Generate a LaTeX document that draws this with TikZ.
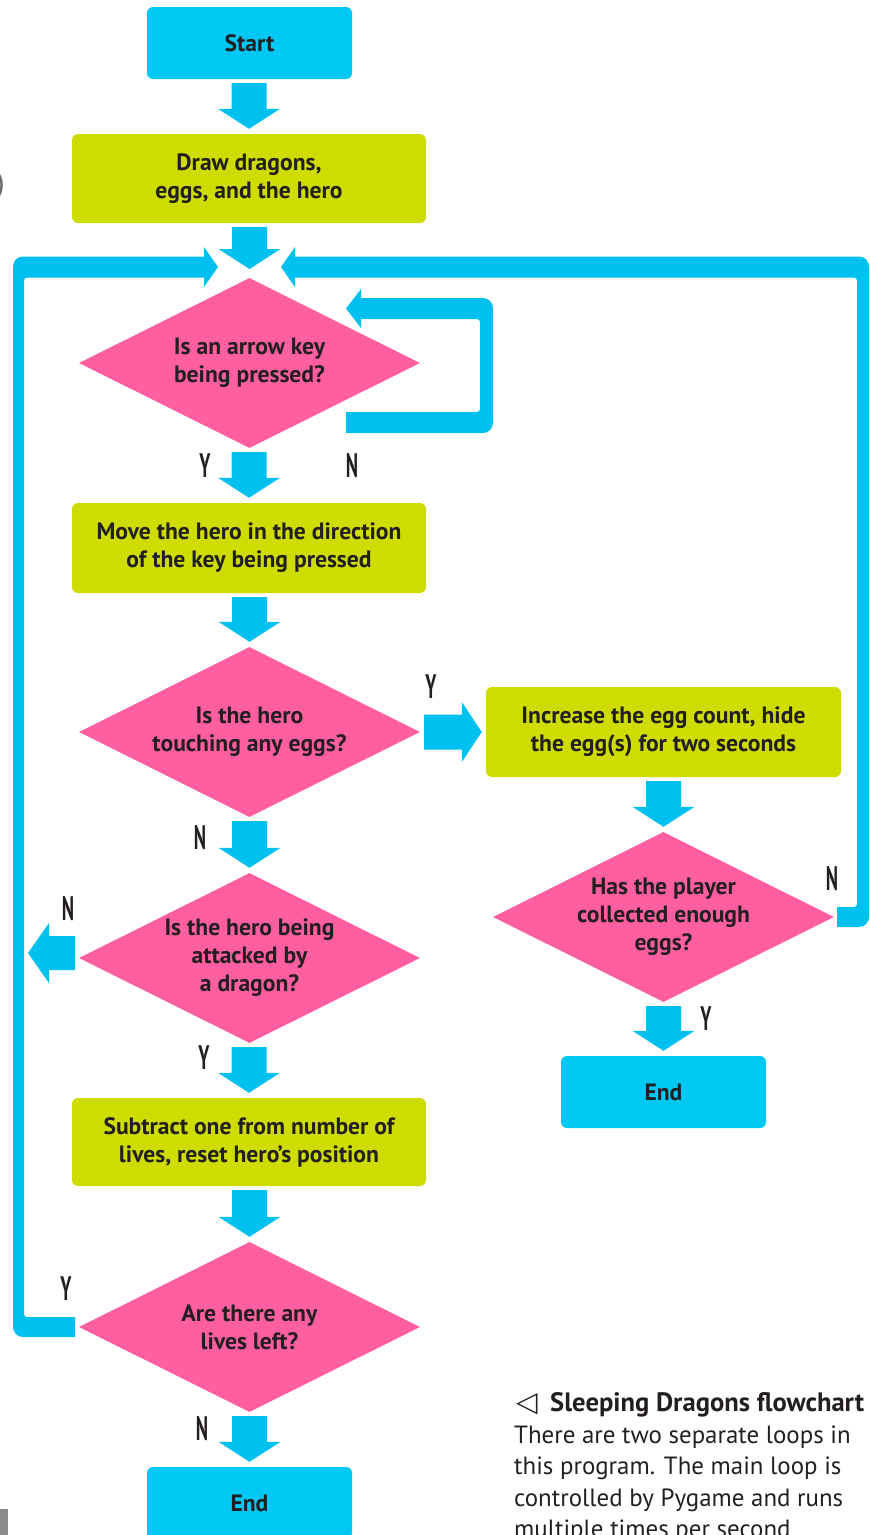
\documentclass[tikz,border=0pt]{standalone}
\usepackage{fontspec}
\setmainfont{PT Sans}
\newfontfamily\symfont{DejaVu Sans}
\usetikzlibrary{shapes.geometric,calc}
\definecolor{flow}{RGB}{0,192,240}
\definecolor{termc}{RGB}{0,200,244}
\definecolor{procc}{RGB}{206,220,0}
\definecolor{decc}{RGB}{255,94,160}
\definecolor{ink}{RGB}{35,31,32}
\definecolor{edgegray}{RGB}{110,110,110}
\newcommand\boxfont{\fontsize{23.6}{28}\selectfont\bfseries}
\newcommand\ynfont{\fontsize{34}{34}\selectfont\bfseries}
\newcommand\capfont{\fontsize{24.9}{31.5}\selectfont}
\newcommand\yn[1]{\scalebox{0.55}[1]{#1}}
% vertical block arrow from node #1 (south) to node #2 (north)
\newcommand\vblock[2]{\fill[flow] let \p1=(#1.south), \p2=(#2.north) in
  (\x2-17.5pt,\y1-4pt) -- (\x2+17.5pt,\y1-4pt) -- (\x2+17.5pt,\y2+25pt) --
  (\x2+31pt,\y2+25pt) -- (\x2,\y2+5pt) -- (\x2-31pt,\y2+25pt) --
  (\x2-17.5pt,\y2+25pt) -- cycle;}
% right-pointing block arrow from #1.east to #2.west
\newcommand\rblock[2]{\fill[flow] let \p1=(#1.east), \p2=(#2.west) in
  (\x1+4pt,\y1+17.5pt) -- (\x2-24pt,\y1+17.5pt) -- (\x2-24pt,\y1+30pt) --
  (\x2-4pt,\y1) -- (\x2-24pt,\y1-30pt) -- (\x2-24pt,\y1-17.5pt) --
  (\x1+4pt,\y1-17.5pt) -- cycle;}
% left-pointing block arrow from #1.west to coordinate #2
\newcommand\lblock[2]{\fill[flow] let \p1=(#1.west), \p2=(#2) in
  (\x1-4pt,\y2+17pt) -- (\x2+21pt,\y2+17pt) -- (\x2+21pt,\y2+30pt) --
  (\x2,\y2) -- (\x2+21pt,\y2-30pt) -- (\x2+21pt,\y2-17pt) --
  (\x1-4pt,\y2-17pt) -- cycle;}
\begin{document}
\begin{tikzpicture}[x=1pt,y=-1pt,
  termbox/.style={rectangle, rounded corners=6pt, fill=termc, minimum width=205pt,
    minimum height=72pt, inner sep=0pt, font=\boxfont, text=ink},
  procbox/.style={rectangle, rounded corners=6pt, fill=procc, minimum width=354pt,
    minimum height=89pt, inner sep=0pt, align=center, font=\boxfont, text=ink},
  decbox/.style={diamond, fill=decc, minimum width=341pt, minimum height=170pt,
    inner sep=0pt, aspect=2, align=center, font=\boxfont, text=ink},
  ynlab/.style={font=\ynfont, text=ink, inner sep=0pt},
  capline/.style={anchor=base west, inner sep=0pt, font=\capfont, text=ink}]
\useasboundingbox (0,0) rectangle (870,1535);
\clip (0,0) rectangle (870,1535);

% ---- loop lines ----
\begin{scope}
  \clip (0,240) -- (204,240) -- (204,290) -- (75,290) -- (75,1350) -- (0,1350) -- cycle;
  \fill[flow, even odd rule] [rounded corners=10pt] (13,256.5) rectangle (400,1337)
    [rounded corners=3pt] (24,277.5) rectangle (390,1317);
\end{scope}
\begin{scope}
  \clip (295,240) -- (880,240) -- (880,940) -- (837,940) -- (837,290) -- (295,290) -- cycle;
  \fill[flow, even odd rule] [rounded corners=10pt] (100,256.5) rectangle (869,927)
    [rounded corners=3pt] (110,277.5) rectangle (857,907);
\end{scope}
\begin{scope}
  \clip (361,290) -- (500,290) -- (500,440) -- (346,440) -- (346,366) -- (361,366) -- cycle;
  \fill[flow, even odd rule] [rounded corners=10pt] (200,298) rectangle (493,433)
    [rounded corners=3pt] (210,319) rectangle (480,412);
\end{scope}
\coordinate (lhead) at (218,267);
\coordinate (rhead) at (281,267);
\coordinate (ihead) at (346,308.5);
\fill[flow] (204,247) -- (lhead) -- (204,287) -- cycle;
\fill[flow] (295,247) -- (rhead) -- (295,287) -- cycle;
\fill[flow] (361,289) -- (ihead) -- (361,328) -- cycle;

% ---- nodes ----
\node[termbox] (start) at (249.5,43) {Start};
\node[procbox] (draw) at (249,178.5) {Draw dragons,\\eggs, and the hero};
\coordinate (J) at (249.5,274);
\node[decbox] (d1) at (249.5,363) {Is an arrow key\\being pressed?};
\node[procbox, minimum height=90pt] (move) at (249,548) {Move the hero in the direction\\of the key being pressed};
\node[decbox] (d2) at (249.5,732) {Is the hero\\touching any eggs?};
\node[procbox, minimum width=355pt, minimum height=90pt] (inc) at (663.5,732) {Increase the egg count, hide\\the egg(s) for two seconds};
\node[decbox] (d3) at (663.5,917) {Has the player\\collected enough\\eggs?};
\node[termbox] (endB) at (663.5,1092) {End};
\node[decbox] (d4) at (249.5,958) {Is the hero being\\attacked by\\a dragon?};
\coordinate (nend) at (28,953);
\node[procbox, minimum height=88pt] (sub) at (249,1142) {Subtract one from number of\\lives, reset hero’s position};
\node[decbox] (d5) at (249.5,1327) {Are there any\\lives left?};
\node[termbox] (endA) at (249.5,1503) {End};

% ---- block arrows ----
\vblock{start}{draw}
\vblock{draw}{J}
\vblock{d1}{move}
\vblock{move}{d2}
\rblock{d2}{inc}
\vblock{inc}{d3}
\vblock{d3}{endB}
\vblock{d2}{d4}
\lblock{d4}{nend}
\vblock{d4}{sub}
\vblock{sub}{d5}
\vblock{d5}{endA}

% ---- Y / N labels ----
\node[ynlab] (y1) at (205,466) {\yn{Y}};
\node[ynlab] (n1) at (352,466) {\yn{N}};
\node[ynlab] (y2) at (431,687) {\yn{Y}};
\node[ynlab] (n2) at (200,838) {\yn{N}};
\node[ynlab] (n3) at (68,909) {\yn{N}};
\node[ynlab] (y3) at (204,1058) {\yn{Y}};
\node[ynlab] (y4) at (66,1289) {\yn{Y}};
\node[ynlab] (n4) at (202,1429) {\yn{N}};
\node[ynlab] (n5) at (832,879) {\yn{N}};
\node[ynlab] (y5) at (706,1019) {\yn{Y}};

% ---- caption ----
\node[anchor=base west, inner sep=0pt, text=ink] (tri) at (516,1411) {\fontsize{28}{28}\selectfont\symfont ◁};
\node[capline, font=\fontsize{26.6}{31.5}\selectfont\bfseries] (cap0) at (550,1411) {Sleeping Dragons flowchart};
\node[capline] (cap1) at (514,1443) {There are two separate loops in};
\node[capline] (cap2) at (514,1474.5) {this program. The main loop is};
\node[capline] (cap3) at (514,1506) {controlled by Pygame and runs};
\node[capline] (cap4) at (514,1537.5) {multiple times per second};

% ---- page-edge remnants ----
\node[anchor=east, inner sep=0pt, text=edgegray] (edge) at (5,186) {\fontsize{32}{32}\selectfont )};
\fill[edgegray!80] (0,1509) rectangle (8,1535);
\end{tikzpicture}
\end{document}
